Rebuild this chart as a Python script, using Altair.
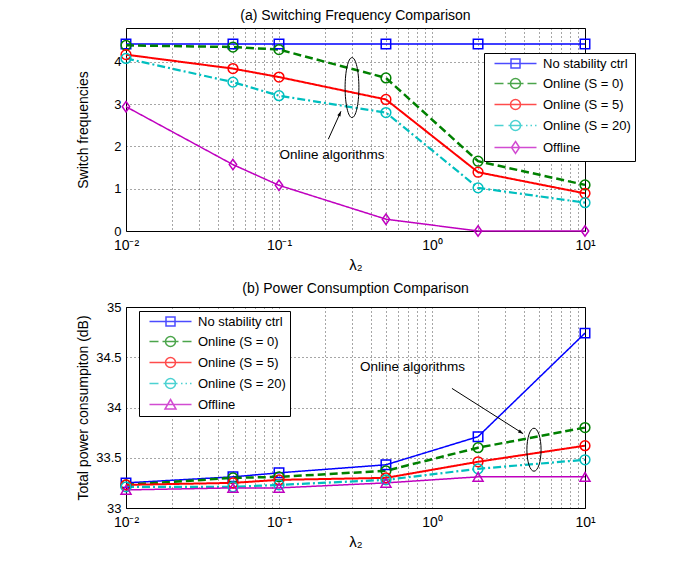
import math
import altair as alt
import pandas as pd

# ---------------- data ----------------
x_vals = [0.01, 0.05, 0.1, 0.5, 2, 10]
series = ["No stability ctrl", "Online (S = 0)", "Online (S = 5)", "Online (S = 20)", "Offline"]
colors = ["#0000FF", "#008000", "#FF0000", "#00BFBF", "#BF00BF"]

# (a) switching frequencies
sw_no = [4.42, 4.42, 4.42, 4.42, 4.42, 4.42]
sw_s0 = [4.39, 4.35, 4.29, 3.62, 1.65, 1.09]
sw_s5 = [4.17, 3.84, 3.64, 3.11, 1.39, 0.89]
sw_s20 = [4.08, 3.52, 3.20, 2.80, 1.02, 0.67]
sw_off = [2.94, 1.57, 1.08, 0.28, 0.0, 0.0]

# (b) total power consumption (dB)
pw_no = [33.25, 33.31, 33.35, 33.43, 33.71, 34.74]
pw_s0 = [33.23, 33.30, 33.31, 33.37, 33.60, 33.80]
pw_s5 = [33.23, 33.25, 33.28, 33.30, 33.46, 33.62]
pw_s20 = [33.21, 33.21, 33.23, 33.28, 33.39, 33.48]
pw_off = [33.18, 33.20, 33.20, 33.25, 33.31, 33.31]

x_grid_vals = [0.01, 0.02, 0.03, 0.04, 0.05, 0.06, 0.07, 0.08, 0.09,
               0.1, 0.2, 0.3, 0.4, 0.5, 0.6, 0.7, 0.8, 0.9,
               1, 2, 3, 4, 5, 6, 7, 8, 9, 10]
ya_ticks = [0, 1, 2, 3, 4]
yb_ticks = [33, 33.5, 34, 34.5, 35]

# annotations (data coordinates)
ann_text = "Online algorithms"
ann_a = {"tx": 0.222, "ty": 1.80, "ax": 0.21, "ay": 2.17, "bx": 0.254, "by": 2.83,
         "ex": 0.30, "ey": 3.39}
ann_b = {"tx": 0.745, "ty": 34.40, "ax": 1.35, "ay": 34.19, "bx": 3.94, "by": 33.74,
         "ex": 4.64, "ey": 33.58}

# ---------------- styles ----------------
FONT = "Liberation Sans"
W = 459
HA, HB = 203, 201
dashes = [[1, 0], [8, 4], [1, 0], [8, 3, 2, 3], [1, 0]]
widths = [1.5, 2.5, 2.0, 2.2, 1.5]

DIAMOND = "M0,-1.2L0.85,0L0,1.2L-0.85,0Z"
shapes_a = ["square", "circle", "circle", "circle", DIAMOND]
shapes_b = ["square", "circle", "circle", "circle", "triangle-up"]
sizes_a = [90, 95, 95, 95, 75]
sizes_b = [90, 95, 95, 95, 100]

# legend glyphs: unit = 5 px (symbolSize 100)
SQ = "M-0.9,-0.9H0.9V0.9H-0.9Z"
CI = "M1,0A1,1 0 1,1 -1,0A1,1 0 1,1 1,0Z"
DI = "M0,-1.2L0.8,0L0,1.2L-0.8,0Z"
TR = "M0,-1L1.1,0.9L-1.1,0.9Z"
SOLID = "M-4.2,0H4.2"
DASH = "M-4.2,0H-2.4M-1.6,0H1.6M2.4,0H4.2"
DASHDOT = "M-4.2,0H-2.4M-1.4,0H1.4M2.1,0H2.4M3.0,0H3.3M3.9,0H4.2"
legend_a = [SOLID + SQ, DASH + CI, SOLID + CI, DASHDOT + CI, SOLID + DI]
legend_b = [SOLID + SQ, DASH + CI, SOLID + CI, DASHDOT + CI, SOLID + TR]

ELLIPSE_A = "M0,-1A0.23,1 0 1,1 0,1A0.23,1 0 1,1 0,-1Z"
ELLIPSE_B = "M0,-1A0.33,1 0 1,1 0,1A0.33,1 0 1,1 0,-1Z"
ARROWHEAD = "M0,0L-0.35,1L0.35,1Z"


def long_df(cols):
    rows = []
    for name, vals in zip(series, cols):
        for xv, yv in zip(x_vals, vals):
            rows.append({"series": name, "x": xv, "y": yv})
    return pd.DataFrame(rows)


def arrow_angle(ann, ydom, h):
    px = lambda v: W * (math.log10(v) + 2) / 3
    py = lambda v: h * (1 - (v - ydom[0]) / (ydom[1] - ydom[0]))
    dx = px(ann["bx"]) - px(ann["ax"])
    dy = py(ann["by"]) - py(ann["ay"])
    return math.degrees(math.atan2(dx, -dy)) % 360


def panel(df, shapes, sizes, legend_paths, ydom, yticks, ytitle, title, legx, legy,
          ann, ellipse, ell_size, h):
    xenc = alt.X("x:Q",
                 scale=alt.Scale(type="log", domain=[0.01, 10], nice=False),
                 axis=alt.Axis(values=x_grid_vals,
                               labelExpr="datum.value == 0.01 ? '10⁻²' : datum.value == 0.1 ? '10⁻¹' : datum.value == 1 ? '10⁰' : datum.value == 10 ? '10¹' : ''",
                               labelOverlap=False, labelFlush=False,
                               title="λ₂", titleFontSize=15, titlePadding=5,
                               labelPadding=7, labelFontSize=14))
    yenc = alt.Y("y:Q",
                 scale=alt.Scale(domain=ydom, nice=False, zero=False),
                 axis=alt.Axis(values=yticks, format="~g", title=ytitle,
                               titleX=-36, titleFontSize=14, labelFontSize=13,
                               labelPadding=5))
    base = alt.Chart(df)
    layers = []
    for i, name in enumerate(series):
        sub = base.transform_filter(alt.datum.series == name)
        layers.append(sub.mark_line(color=colors[i], strokeWidth=widths[i],
                                    strokeDash=dashes[i]).encode(x=xenc, y=yenc))
    for i, name in enumerate(series):
        sub = base.transform_filter(alt.datum.series == name)
        layers.append(sub.mark_point(color=colors[i], shape=shapes[i], size=sizes[i],
                                     filled=False, strokeWidth=1.5, opacity=1)
                      .encode(x="x:Q", y="y:Q"))
    # legend-only layer (no data drawn)
    leg = alt.Legend(orient="none", legendX=legx, legendY=legy, title=None,
                     fillColor="white", strokeColor="black", padding=4,
                     labelFont=FONT, labelFontSize=13, labelColor="black",
                     symbolSize=100, symbolStrokeWidth=1.5, symbolOffset=21,
                     labelOffset=21, rowPadding=4, cornerRadius=0)
    layers.append(base.transform_filter("false").mark_point(filled=False, strokeWidth=1.5)
                  .encode(color=alt.Color("series:N", scale=alt.Scale(domain=series, range=colors), legend=leg),
                          shape=alt.Shape("series:N", scale=alt.Scale(domain=series, range=legend_paths), legend=leg)))
    # annotations
    adf = pd.DataFrame([ann])
    abase = alt.Chart(adf)
    layers.append(abase.mark_text(font=FONT, fontSize=13.5, color="black")
                  .encode(x="tx:Q", y="ty:Q", text=alt.value(ann_text)))
    layers.append(abase.mark_rule(color="black", strokeWidth=1)
                  .encode(x="ax:Q", y="ay:Q", x2="bx:Q", y2="by:Q"))
    layers.append(abase.mark_point(shape=ARROWHEAD, filled=True, color="black", size=100,
                                   angle=arrow_angle(ann, ydom, h), opacity=1)
                  .encode(x="bx:Q", y="by:Q"))
    layers.append(abase.mark_point(shape=ellipse, filled=False, color="black", size=ell_size,
                                   strokeWidth=1, opacity=1)
                  .encode(x="ex:Q", y="ey:Q"))
    return alt.layer(*layers).properties(
        width=W, height=h,
        title=alt.Title(title, fontSize=14, fontWeight="normal", font=FONT, offset=5, color="black"))


df_a = long_df([sw_no, sw_s0, sw_s5, sw_s20, sw_off])
df_b = long_df([pw_no, pw_s0, pw_s5, pw_s20, pw_off])

pa = panel(df_a, shapes_a, sizes_a, legend_a, [0, 4.8], ya_ticks, "Switch frequencies",
           "(a) Switching Frequency Comparison", 358, 25, ann_a, ELLIPSE_A, 3600, HA)
pb = panel(df_b, shapes_b, sizes_b, legend_b, [33, 35], yb_ticks, "Total power consumpiton (dB)",
           "(b) Power Consumption Comparison", 13, 4, ann_b, ELLIPSE_B, 1849, HB)

chart = alt.vconcat(pa, pb, spacing=8).resolve_scale(
    color="independent", shape="independent"
).resolve_legend(color="independent", shape="independent").properties(
    padding={"left": 67, "top": 0, "right": 5, "bottom": 5}
).configure(font=FONT).configure_view(
    stroke="black", strokeWidth=1
).configure_axis(
    grid=True, gridColor="black", gridDash=[1, 3], gridOpacity=0.7, gridWidth=1,
    ticks=False, domain=False, labelColor="black", titleColor="black",
    labelFont=FONT, titleFont=FONT, titleFontWeight="normal"
)

chart.save("out.html", embed_options={"renderer": "svg", "actions": False})
